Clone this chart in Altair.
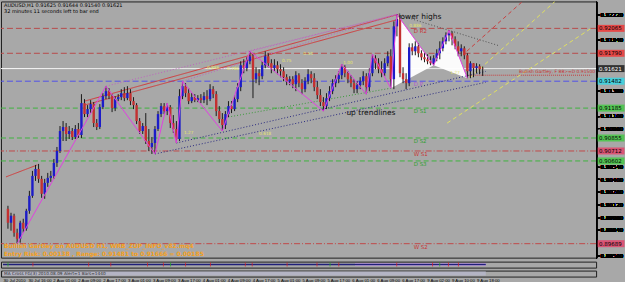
import altair as alt
import pandas as pd
import numpy as np

# ---------------- data ----------------
OPEN = [0.90074, 0.89920, 0.89997, 0.89810, 0.89744, 0.89920, 0.89854, 0.90052, 0.90217, 0.90437,
        0.90514, 0.90404, 0.90239, 0.90360, 0.90415, 0.90437, 0.90580, 0.90712, 0.90932, 0.90976,
        0.90899, 0.90932, 0.90866, 0.90954, 0.90888, 0.91240, 0.91119, 0.91174, 0.91229, 0.91020,
        0.90976, 0.91196, 0.91317, 0.91372, 0.91317, 0.91185, 0.91284, 0.91306, 0.91350, 0.91295,
        0.91350, 0.91262, 0.91218, 0.91042, 0.90932, 0.90987, 0.90822, 0.90756, 0.90800, 0.90954,
        0.91119, 0.91207, 0.91152, 0.91196, 0.91020, 0.90954, 0.90844, 0.91317, 0.91427, 0.91350,
        0.91262, 0.91306, 0.91273, 0.91295, 0.91273, 0.91317, 0.91284, 0.91394, 0.91339, 0.91152,
        0.91064, 0.90998, 0.91119, 0.91207, 0.91174, 0.91284, 0.91416, 0.91658, 0.91625, 0.91702,
        0.91757, 0.91504, 0.91570, 0.91537, 0.91658, 0.91757, 0.91680, 0.91625, 0.91658, 0.91614,
        0.91592, 0.91526, 0.91482, 0.91504, 0.91449, 0.91548, 0.91460, 0.91394, 0.91482, 0.91559,
        0.91515, 0.91416, 0.91328, 0.91251, 0.91207, 0.91295, 0.91372, 0.91460, 0.91504, 0.91548,
        0.91636, 0.91570, 0.91504, 0.91460, 0.91394, 0.91438, 0.91482, 0.91537, 0.91416, 0.91570,
        0.91735, 0.91680, 0.91614, 0.91570, 0.91680, 0.91757, 0.91504, 0.92087, 0.92164, 0.91570,
        0.91504, 0.91460, 0.91856, 0.91812, 0.91867, 0.91790, 0.91746, 0.91724, 0.91702, 0.91680,
        0.91735, 0.91790, 0.91845, 0.91922, 0.91988, 0.92010, 0.91944, 0.91867, 0.91812, 0.91845,
        0.91768, 0.91592, 0.91680, 0.91625, 0.91647, 0.91625]
HIGH = [0.90107, 0.90030, 0.90019, 0.89854, 0.89942, 0.89964, 0.90074, 0.90272, 0.90492, 0.90558,
        0.90569, 0.90437, 0.90404, 0.90470, 0.90492, 0.90624, 0.90756, 0.90987, 0.91042, 0.91020,
        0.90987, 0.90965, 0.90998, 0.91020, 0.91339, 0.91284, 0.91218, 0.91273, 0.91251, 0.91064,
        0.91229, 0.91350, 0.91427, 0.91405, 0.91339, 0.91317, 0.91339, 0.91394, 0.91416, 0.91427,
        0.91394, 0.91306, 0.91240, 0.91075, 0.91020, 0.91130, 0.90954, 0.90866, 0.90987, 0.91152,
        0.91240, 0.91240, 0.91240, 0.91218, 0.91108, 0.91042, 0.91394, 0.91482, 0.91460, 0.91405,
        0.91350, 0.91339, 0.91328, 0.91339, 0.91361, 0.91383, 0.91449, 0.91427, 0.91372, 0.91207,
        0.91130, 0.91152, 0.91262, 0.91262, 0.91328, 0.91460, 0.91702, 0.91724, 0.91746, 0.91812,
        0.91779, 0.91636, 0.91614, 0.91702, 0.91812, 0.91790, 0.91724, 0.91724, 0.91702, 0.91669,
        0.91636, 0.91559, 0.91537, 0.91537, 0.91592, 0.91570, 0.91504, 0.91526, 0.91614, 0.91592,
        0.91570, 0.91482, 0.91394, 0.91306, 0.91350, 0.91427, 0.91504, 0.91548, 0.91592, 0.91669,
        0.91658, 0.91592, 0.91548, 0.91504, 0.91482, 0.91526, 0.91592, 0.91570, 0.91625, 0.91779,
        0.91768, 0.91735, 0.91702, 0.91735, 0.91812, 0.91834, 0.92142, 0.92219, 0.92208, 0.91636,
        0.91570, 0.91900, 0.91900, 0.91922, 0.91900, 0.91823, 0.91801, 0.91779, 0.91757, 0.91768,
        0.91834, 0.91922, 0.91966, 0.92021, 0.92043, 0.92032, 0.91977, 0.91922, 0.91889, 0.91867,
        0.91790, 0.91702, 0.91680, 0.91680, 0.91669, 0.91644]
LOW = [0.89854, 0.89832, 0.89766, 0.89689, 0.89700, 0.89810, 0.89832, 0.90019, 0.90195, 0.90382,
       0.90360, 0.90195, 0.90184, 0.90316, 0.90371, 0.90404, 0.90536, 0.90690, 0.90822, 0.90822,
       0.90844, 0.90833, 0.90844, 0.90855, 0.90855, 0.91086, 0.91086, 0.91130, 0.90976, 0.90943,
       0.90954, 0.91174, 0.91284, 0.91284, 0.91141, 0.91152, 0.91262, 0.91273, 0.91262, 0.91273,
       0.91218, 0.91174, 0.91009, 0.90899, 0.90899, 0.90789, 0.90712, 0.90679, 0.90679, 0.90932,
       0.91086, 0.91119, 0.91108, 0.90965, 0.90910, 0.90800, 0.90822, 0.91284, 0.91306, 0.91229,
       0.91240, 0.91251, 0.91251, 0.91240, 0.91240, 0.91218, 0.91262, 0.91295, 0.91097, 0.91020,
       0.90932, 0.90954, 0.91086, 0.91130, 0.91152, 0.91251, 0.91372, 0.91570, 0.91592, 0.91669,
       0.91295, 0.91460, 0.91438, 0.91504, 0.91625, 0.91636, 0.91570, 0.91592, 0.91559, 0.91526,
       0.91482, 0.91438, 0.91438, 0.91405, 0.91372, 0.91416, 0.91339, 0.91361, 0.91449, 0.91460,
       0.91372, 0.91284, 0.91207, 0.91152, 0.91174, 0.91262, 0.91339, 0.91416, 0.91460, 0.91504,
       0.91526, 0.91460, 0.91416, 0.91350, 0.91350, 0.91394, 0.91438, 0.91339, 0.91372, 0.91537,
       0.91614, 0.91570, 0.91526, 0.91537, 0.91647, 0.91405, 0.91394, 0.91977, 0.91526, 0.91460,
       0.91394, 0.91427, 0.91768, 0.91768, 0.91746, 0.91713, 0.91691, 0.91669, 0.91658, 0.91658,
       0.91702, 0.91724, 0.91812, 0.91889, 0.91922, 0.91878, 0.91834, 0.91757, 0.91757, 0.91724,
       0.91515, 0.91515, 0.91526, 0.91570, 0.91559, 0.91540]
CLOSE = [0.89920, 0.89997, 0.89810, 0.89744, 0.89920, 0.89854, 0.90052, 0.90217, 0.90437, 0.90514,
         0.90404, 0.90239, 0.90360, 0.90415, 0.90437, 0.90580, 0.90712, 0.90932, 0.90976, 0.90899,
         0.90932, 0.90866, 0.90954, 0.90888, 0.91240, 0.91119, 0.91174, 0.91229, 0.91020, 0.90976,
         0.91196, 0.91317, 0.91372, 0.91317, 0.91185, 0.91284, 0.91306, 0.91350, 0.91295, 0.91350,
         0.91262, 0.91218, 0.91042, 0.90932, 0.90987, 0.90822, 0.90756, 0.90800, 0.90954, 0.91119,
         0.91207, 0.91152, 0.91196, 0.91020, 0.90954, 0.90844, 0.91317, 0.91427, 0.91350, 0.91262,
         0.91306, 0.91273, 0.91295, 0.91273, 0.91317, 0.91284, 0.91394, 0.91339, 0.91152, 0.91064,
         0.90998, 0.91119, 0.91207, 0.91174, 0.91284, 0.91416, 0.91658, 0.91625, 0.91702, 0.91757,
         0.91504, 0.91570, 0.91537, 0.91658, 0.91757, 0.91680, 0.91625, 0.91658, 0.91614, 0.91592,
         0.91526, 0.91482, 0.91504, 0.91449, 0.91548, 0.91460, 0.91394, 0.91482, 0.91559, 0.91515,
         0.91416, 0.91328, 0.91251, 0.91207, 0.91295, 0.91372, 0.91460, 0.91504, 0.91548, 0.91636,
         0.91570, 0.91504, 0.91460, 0.91394, 0.91438, 0.91482, 0.91537, 0.91416, 0.91570, 0.91735,
         0.91680, 0.91614, 0.91570, 0.91680, 0.91757, 0.91504, 0.92087, 0.92164, 0.91570, 0.91504,
         0.91460, 0.91856, 0.91812, 0.91867, 0.91790, 0.91746, 0.91724, 0.91702, 0.91680, 0.91735,
         0.91790, 0.91845, 0.91922, 0.91988, 0.92010, 0.91944, 0.91867, 0.91812, 0.91845, 0.91768,
         0.91592, 0.91680, 0.91625, 0.91647, 0.91614, 0.91621]

X_TICKS = [0, 8, 16, 24, 32, 40, 48, 56, 64, 72, 80, 88, 96, 104, 112, 120, 128, 136, 144, 152]
X_LABELS = ["30 Jul 2010", "30 Jul 16:00", "2 Aug 01:00", "2 Aug 09:00", "2 Aug 17:00",
            "3 Aug 01:00", "3 Aug 09:00", "3 Aug 17:00", "4 Aug 01:00", "4 Aug 09:00",
            "4 Aug 17:00", "5 Aug 01:00", "5 Aug 09:00", "5 Aug 17:00", "6 Aug 01:00",
            "6 Aug 09:00", "6 Aug 17:00", "9 Aug 02:00", "9 Aug 10:00", "9 Aug 18:00"]
# price-scale labels that are not hidden behind a price tag
Y_TICKS = [0.89560, 0.89840, 0.89980, 0.90120, 0.90260, 0.90400, 0.90540, 0.90960, 0.91100,
           0.91380, 0.91940, 0.92220]

# pivot levels
LEVEL_NAMES = ["D R2", "D R1", "Bid", "D P", "D S1", "D S2", "W S1", "D S3", "W S2"]
LEVEL_PRICES = [0.92065, 0.91790, 0.91621, 0.91482, 0.91185, 0.90855, 0.90712, 0.90602, 0.89689]
GARTLEY_LINE = 0.91548  # dotted line after point D

# zigzag swing points (bar index, price)
ZZ_BARS = [3, 32, 48, 52, 55, 57, 70, 79, 103, 109, 117, 119, 125, 127, 139, 144, 150]
ZZ_PRICES = [0.89689, 0.91427, 0.90679, 0.91240, 0.90800, 0.91482, 0.90932, 0.91812, 0.91152,
             0.91669, 0.91339, 0.91779, 0.91405, 0.92219, 0.91658, 0.92043, 0.91515]

# Gartley points X A B C D
G_BARS = [125, 127, 139, 144, 150]
G_PRICES = [0.91405, 0.92219, 0.91658, 0.92043, 0.91515]

# small fibonacci ratio labels (bar, price, text)
FIB_BARS = [67, 73.5, 91, 98, 111, 59, 84, 133, 146]
FIB_PRICES = [0.91625, 0.91614, 0.91702, 0.91779, 0.91680, 0.90910, 0.90899, 0.92095, 0.91570]
FIB_TEXTS = ["0.886", "0.786", "0.75", "0.50", "1.00", "1.27", "0.618", "0.886", "1.27"]

# trend lines: start bar, start price, end bar, end price
RED_LINES = [(25, 0.91262, 127.4, 0.92219), (25, 0.91218, 127.4, 0.92164),
             (-0.64, 0.90426, 9.6, 0.90558)]
PINK_DOTTED = [(32, 0.91427, 127, 0.92219), (57, 0.91482, 127, 0.92219), (79, 0.91812, 127, 0.92219)]
BLUE_DOTTED = [(55, 0.90800, 156, 0.91590), (48, 0.90679, 156, 0.91470)]
GREEN_DOTTED = [(70, 0.91075, 125, 0.91405)]
GRAY_DOTTED = [(127, 0.92219, 160, 0.91877)]
YELLOW_DASHED = [(143.4, 0.91020, 190.4, 0.92065), (150.7, 0.91515, 178.6, 0.92362)]
RED_DASHED = [(149.8, 0.91812, 168.0, 0.92362)]

SUB_RED_MARKS = [9.6, 27.5, 34.6, 46.4, 51.5, 58.6, 66.6, 77.8, 80, 91.2, 100.8, 107.8, 126.4,
                 137.9, 143, 146.2]
SUB_GREEN_MARKS = [1.6, 53.8, 105, 140.2]

# ---------------- chart ----------------
BG = "#a8a8a8"
FONT = "DejaVu Sans"
W = 597
H = 257

xs = alt.Scale(domain=[-0.64, 190.4], nice=False, zero=False)
ys = alt.Scale(domain=[0.89535, 0.92362], nice=False, zero=False)
AXY = alt.Axis(orient="right", values=Y_TICKS, format=".5f", labelFontSize=5.5, labelFont=FONT,
               labelColor="#000000", tickColor="#000000", domainColor="#000000", tickSize=3,
               labelPadding=1, grid=False, title=None, labelFlush=False)


def X(f="i"):
    return alt.X(f"{f}:Q", scale=xs, axis=None)


def Y(f):
    return alt.Y(f"{f}:Q", scale=ys, axis=AXY)


df = pd.DataFrame({"i": np.arange(len(CLOSE)), "open": OPEN, "high": HIGH, "low": LOW,
                   "close": CLOSE})
df["dir"] = np.where(df["close"] >= df["open"], "up", "down")

layers = []

# horizontal levels
lev = pd.DataFrame({"name": LEVEL_NAMES, "p": LEVEL_PRICES})
lev_style = {
    "D R2": ("#b84a4a", [6, 3], 1), "D R1": ("#b84a4a", [6, 3], 1), "Bid": ("#ffffff", [1, 0], 1),
    "D P": ("#5050e8", [6, 3], 1), "D S1": ("#3fb43f", [5, 3], 1), "D S2": ("#3fb43f", [5, 3], 1),
    "W S1": ("#c04848", [6, 2, 1, 2], 1), "D S3": ("#3fb43f", [5, 3], 1),
    "W S2": ("#c04848", [6, 2, 1, 2], 1),
}
for name, (col, dash, sw) in lev_style.items():
    layers.append(alt.Chart(lev[lev.name == name]).mark_rule(color=col, strokeDash=dash,
                                                             strokeWidth=sw).encode(y=Y("p")))

gl = pd.DataFrame({"i": [G_BARS[4]], "i2": [190.4], "p": [GARTLEY_LINE]})
layers.append(alt.Chart(gl).mark_rule(color="#c83c3c", strokeDash=[1, 1]).encode(
    x=X("i"), x2="i2:Q", y=Y("p")))

# level labels
lab = pd.DataFrame({"name": ["D R2", "D P", "D S1", "D S2", "W S1", "D S3", "W S2"],
                    "p": [0.92065, 0.91482, 0.91185, 0.90855, 0.90712, 0.90602, 0.89689],
                    "col": ["r", "p", "g", "g", "r", "g", "r"]})
layers.append(alt.Chart(lab).mark_text(align="left", baseline="top", fontSize=5.5, font=FONT,
                                       dy=1).encode(
    x=alt.value(414), y=Y("p"), text="name:N",
    color=alt.Color("col:N", scale=alt.Scale(domain=["r", "p", "g"],
                                             range=["#c83232", "#b060d0", "#2f9f2f"]),
                    legend=None)))


# Gartley triangles (white)
def tri(b0, b1, b2, p0, p1, p2, tid):
    lower = float(np.interp(b1, [b0, b2], [p0, p2]))
    return pd.DataFrame({"i": [b0, b1, b2], "p": [p0, p1, p2], "p2": [p0, lower, p2], "t": tid})


tris = pd.concat([tri(G_BARS[0], G_BARS[1], G_BARS[2], G_PRICES[0], G_PRICES[1], G_PRICES[2], 0),
                  tri(G_BARS[2], G_BARS[3], G_BARS[4], G_PRICES[2], G_PRICES[3], G_PRICES[4], 1)])
layers.append(alt.Chart(tris).mark_area(color="#ffffff", opacity=0.95, interpolate="linear").encode(
    x=X("i"), y=Y("p"), y2="p2:Q", detail="t:N"))


def seg_df(segs):
    rows = []
    for k, (a, pa, b, pb) in enumerate(segs):
        rows.append({"i": a, "p": pa, "s": k, "o": 0})
        rows.append({"i": b, "p": pb, "s": k, "o": 1})
    return pd.DataFrame(rows)


def seg_layer(segs, color, dash, width=1.0):
    return alt.Chart(seg_df(segs)).mark_line(color=color, strokeDash=dash, strokeWidth=width,
                                             clip=True).encode(
        x=X("i"), y=Y("p"), detail="s:N", order="o:Q")


layers += [
    seg_layer(RED_LINES, "#d03c3c", [1, 0], 1),
    seg_layer(PINK_DOTTED, "#c060c0", [1, 2]),
    seg_layer(BLUE_DOTTED, "#2a2a80", [1, 2]),
    seg_layer(GREEN_DOTTED, "#3a9a3a", [1, 2]),
    seg_layer(GRAY_DOTTED, "#505050", [1, 2]),
    seg_layer(YELLOW_DASHED, "#e0e060", [4, 3]),
    seg_layer(RED_DASHED, "#c84040", [4, 3]),
]

# fib ratio labels
fib = pd.DataFrame({"i": FIB_BARS, "p": FIB_PRICES, "t": FIB_TEXTS})
layers.append(alt.Chart(fib).mark_text(align="center", baseline="middle", fontSize=4.3, font=FONT,
                                       color="#e6e66a").encode(x=X("i"), y=Y("p"), text="t:N"))

# candles
layers.append(alt.Chart(df).mark_rule(color="#1a1a1a", strokeWidth=1).encode(
    x=X("i"), y=Y("low"), y2="high:Q"))
layers.append(alt.Chart(df).mark_bar(size=2.4).encode(
    x=X("i"), y=Y("open"), y2="close:Q",
    color=alt.Color("dir:N", scale=alt.Scale(domain=["up", "down"], range=["#1c1cc8", "#c43030"]),
                    legend=None)))

# zigzag
zz = pd.DataFrame({"i": ZZ_BARS, "p": ZZ_PRICES, "o": np.arange(len(ZZ_BARS))})
layers.append(alt.Chart(zz).mark_line(color="#e040e0", strokeWidth=1).encode(
    x=X("i"), y=Y("p"), order="o:Q"))

# right-axis price tags
tags = pd.DataFrame({"p": [0.92065, 0.91790, 0.91621, 0.91482, 0.91185, 0.90855, 0.90712, 0.90602,
                           0.89689],
                     "c": ["r", "r", "k", "c", "g", "g", "m", "g", "m"]})
tags["t"] = tags["p"].map(lambda v: f"{v:.5f}")
layers.append(alt.Chart(tags).mark_tick(orient="horizontal", size=27, thickness=7).encode(
    x=alt.value(612), y=Y("p"),
    color=alt.Color("c:N", scale=alt.Scale(domain=["r", "k", "c", "g", "m"],
                                           range=["#ff2020", "#000000", "#20e0f0", "#30d030",
                                                  "#f03060"]), legend=None)))
layers.append(alt.Chart(tags).mark_text(align="left", baseline="middle", fontSize=5.5,
                                        font=FONT).encode(
    x=alt.value(600), y=Y("p"), text="t:N",
    color=alt.condition(alt.datum.c == "k", alt.value("#ffffff"), alt.value("#000000"))))

# annotations
ann = pd.DataFrame({"i": [127.5, 110.5], "p": [0.92190, 0.91130],
                    "t": ["lower highs", "up trendlines"]})
layers.append(alt.Chart(ann).mark_text(align="left", baseline="middle", fontSize=7.5, font=FONT,
                                       color="#111111").encode(x=X("i"), y=Y("p"), text="t:N"))

gtxt = pd.DataFrame({"p": [GARTLEY_LINE], "t": ["Bullish Gartley, F 88>=D 0.91500"]})
layers.append(alt.Chart(gtxt).mark_text(align="right", baseline="bottom", fontSize=4.5, font=FONT,
                                        color="#c83232", dy=-1).encode(
    x=alt.value(596), y=Y("p"), text="t:N"))

pix = alt.Scale(domain=[0, H], range=[0, H])
info = pd.DataFrame({"t": ["AUDUSD,H1  0.91625 0.91644 0.91540 0.91621",
                           "32 minutes 11 seconds left to bar end"], "y": [4, 10]})
layers.append(alt.Chart(info).mark_text(align="left", baseline="middle", fontSize=5, font=FONT,
                                        color="#000000").encode(
    x=alt.value(3), y=alt.Y("y:Q", scale=pix, axis=None), text="t:N"))

orange = pd.DataFrame({"t": ["Bullish Gartley on AUDUSD H1,  WRB_ZUP_INFO_v82.mq4",
                             "Entry Risk: 0.00138 , Range: 0.91481 to 0.91666 = 0.00185"],
                       "y": [245, 253]})
layers.append(alt.Chart(orange).mark_text(align="left", baseline="middle", fontSize=6, font=FONT,
                                          fontWeight="bold", color="#f5a020").encode(
    x=alt.value(3), y=alt.Y("y:Q", scale=pix, axis=None), text="t:N"))

main = alt.layer(*layers).properties(width=W, height=H).resolve_scale(y="independent",
                                                                        color="independent")

# ---- sub window 1 ----
base1 = pd.DataFrame({"i": [0], "i2": [155]})
red_m = pd.DataFrame({"i": SUB_RED_MARKS})
grn_m = pd.DataFrame({"i": SUB_GREEN_MARKS})
band = pd.DataFrame({"i": [113], "i2": [155]})
s1 = alt.layer(
    alt.Chart(band).mark_rect(color="#c8a8d8").encode(x=X("i"), x2="i2:Q", y=alt.value(1.5),
                                                     y2=alt.value(4.5)),
    alt.Chart(base1).mark_rule(color="#20207a", strokeWidth=1.5).encode(
        x=X("i"), x2="i2:Q", y=alt.value(3)),
    alt.Chart(red_m).mark_tick(color="#e02020", size=4, thickness=1).encode(x=X("i"),
                                                                          y=alt.value(3)),
    alt.Chart(grn_m).mark_tick(color="#20b020", size=4, thickness=1).encode(x=X("i"),
                                                                          y=alt.value(3)),
).properties(width=W, height=6)

# ---- sub window 2 with time axis ----
labexpr = "[" + ",".join(f"'{s}'" for s in X_LABELS) + "][round(datum.value/8)]"
band2 = pd.DataFrame({"i": [0], "i2": [155]})
s2 = alt.layer(
    alt.Chart(band2).mark_rect(color="#b4b4c4").encode(
        x=alt.X("i:Q", scale=xs, axis=alt.Axis(values=X_TICKS, labelExpr=labexpr,
                                               labelFontSize=4.3, labelFont="Liberation Sans",
                                               labelColor="#000000", tickSize=0, domain=False,
                                               labelAlign="left", labelPadding=2, grid=False,
                                               title=None, labelFlush=False,
                                               labelOverlap=False)),
        x2="i2:Q", y=alt.value(1), y2=alt.value(5)),
    alt.Chart(pd.DataFrame({"t": ["MA Cross FG(3) 2010.08.09  Alert=1  Bars=1440"]})).mark_text(
        align="left", baseline="middle", fontSize=4.3, font=FONT, color="#303030").encode(
        x=alt.value(3), y=alt.value(3), text="t:N"),
).properties(width=W, height=6)

chart = alt.vconcat(main, s1, s2, spacing=1).properties(
    padding=0, background=BG).configure_view(stroke="#202020", strokeWidth=1)

chart.save("out.html", embed_options={"renderer": "svg", "actions": False})
